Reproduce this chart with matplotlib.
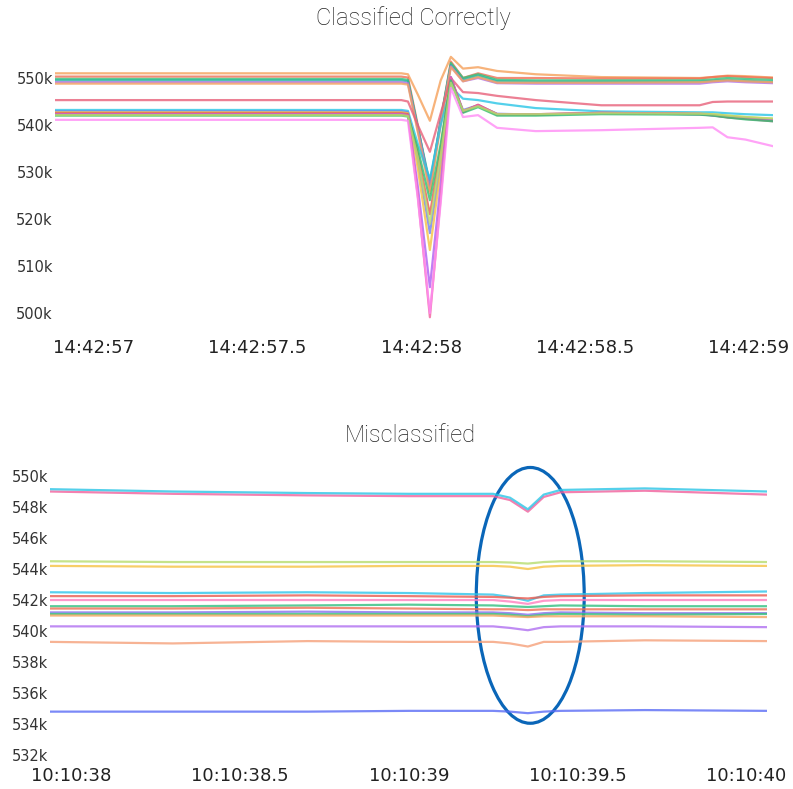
import matplotlib
matplotlib.use("Agg")
import matplotlib.pyplot as plt
import numpy as np
from matplotlib.patches import Ellipse

# ---- top chart: seconds after 14:42:57 ----
t_top = [-0.117, 0.94, 0.96, 0.99, 1.027, 1.06, 1.091, 1.128, 1.174, 1.232,
         1.35, 1.55, 1.85, 1.89, 1.935, 1.99, 2.074]

top_series = {
    "#f5a05a": [551.0, 551.0, 550.8, 546.5, 540.9, 549.5, 554.5, 552.0, 552.3, 551.5, 550.8, 550.2, 550.0, 550.2, 550.5, 550.4, 550.1],
    "#ef6f55": [550.3, 550.3, 550.1, 540.0, 526.0, 541.0, 553.5, 550.0, 551.0, 550.0, 550.0, 549.9, 549.9, 550.2, 550.4, 550.2, 550.0],
    "#35c27a": [549.8, 549.8, 549.6, 539.5, 527.0, 541.0, 553.2, 550.0, 550.8, 549.6, 549.5, 549.5, 549.5, 549.7, 550.0, 549.8, 549.6],
    "#2bb5a0": [549.5, 549.5, 549.3, 539.5, 527.6, 541.0, 552.8, 549.6, 550.5, 549.3, 549.2, 549.2, 549.2, 549.4, 549.6, 549.4, 549.2],
    "#b070e8": [549.1, 549.1, 548.9, 539.0, 526.8, 540.5, 552.5, 549.3, 550.0, 548.9, 548.8, 548.8, 548.8, 549.1, 549.3, 549.1, 548.9],
    "#f4a460": [548.8, 548.8, 548.6, 538.5, 525.5, 540.0, 552.3, 549.3, 550.2, 549.0, 549.0, 549.0, 549.1, 549.3, 549.5, 549.3, 549.1],
    "#e8607a": [545.3, 545.3, 545.0, 540.0, 534.3, 542.5, 550.0, 547.0, 546.8, 546.2, 545.3, 544.2, 544.2, 544.9, 545.0, 545.0, 545.0],
    "#29c5e6": [543.2, 543.2, 543.0, 536.0, 528.5, 540.0, 548.1, 545.6, 545.3, 544.6, 543.6, 542.9, 542.7, 542.7, 542.5, 542.3, 542.1],
    "#6f7ff0": [542.9, 542.9, 542.7, 532.5, 517.0, 532.0, 549.6, 543.2, 544.2, 542.4, 542.2, 542.5, 542.3, 542.1, 541.8, 541.5, 541.0],
    "#f5c242": [542.7, 542.7, 542.5, 530.8, 513.4, 530.5, 549.8, 543.0, 544.0, 542.2, 542.3, 542.5, 542.4, 542.3, 542.0, 541.7, 541.3],
    "#ea5a4f": [542.5, 542.5, 542.3, 534.0, 521.0, 535.0, 550.2, 542.9, 544.3, 542.3, 542.2, 542.6, 542.3, 542.1, 541.7, 541.4, 540.9],
    "#b05ef2": [542.3, 542.3, 542.1, 527.0, 505.5, 527.5, 550.2, 542.8, 544.2, 542.2, 542.3, 542.5, 542.3, 542.0, 541.7, 541.4, 541.0],
    "#f0609c": [542.2, 542.2, 542.0, 525.0, 499.1, 524.5, 550.0, 542.7, 544.3, 542.3, 542.3, 542.6, 542.4, 542.1, 541.6, 541.3, 540.8],
    "#2fbf71": [542.0, 542.0, 541.8, 535.0, 524.0, 536.0, 549.5, 542.6, 543.8, 542.0, 542.0, 542.3, 542.2, 542.0, 541.6, 541.2, 540.8],
    "#b7dd6e": [542.1, 542.1, 541.9, 533.0, 519.0, 533.5, 549.0, 543.0, 544.0, 542.3, 542.3, 542.5, 542.4, 542.3, 542.0, 541.7, 541.4],
    "#ff8cf5": [541.1, 541.1, 540.9, 524.5, 500.0, 523.5, 547.9, 541.7, 542.1, 539.4, 538.7, 538.9, 539.4, 539.5, 537.4, 536.9, 535.5],
}
top_ticks = [0, 0.5, 1, 1.5, 2]
top_tick_labels = ["14:42:57", "14:42:57.5", "14:42:58", "14:42:58.5", "14:42:59"]
top_yticks = [500, 510, 520, 530, 540, 550]

# ---- bottom chart: seconds after 10:10:38 ----
t_bot = [-0.064, 0.3, 0.7, 1.0, 1.25, 1.30, 1.353, 1.40, 1.45, 1.7, 2.062]

bot_series = {
    "#f0609c": [549.0, 548.85, 548.75, 548.7, 548.7, 548.45, 547.7, 548.65, 548.95, 549.05, 548.8],
    "#29c5e6": [549.15, 549.0, 548.9, 548.85, 548.85, 548.6, 547.85, 548.8, 549.1, 549.2, 549.0],
    "#b7dd6e": [544.5, 544.45, 544.45, 544.45, 544.45, 544.42, 544.35, 544.45, 544.5, 544.5, 544.45],
    "#f5c242": [544.2, 544.15, 544.15, 544.2, 544.2, 544.15, 544.0, 544.15, 544.2, 544.25, 544.2],
    "#2fc5ea": [542.5, 542.45, 542.5, 542.45, 542.35, 542.2, 541.95, 542.3, 542.35, 542.45, 542.55],
    "#ea5a4f": [542.25, 542.25, 542.3, 542.25, 542.2, 542.15, 542.1, 542.2, 542.25, 542.3, 542.3],
    "#ff7fbf": [542.0, 542.0, 542.0, 542.0, 542.0, 541.9, 541.75, 541.95, 542.0, 542.0, 542.0],
    "#2fbf80": [541.6, 541.6, 541.65, 541.7, 541.65, 541.6, 541.55, 541.6, 541.65, 541.6, 541.6],
    "#ef6f55": [541.45, 541.45, 541.5, 541.45, 541.4, 541.4, 541.35, 541.4, 541.4, 541.4, 541.4],
    "#8a6ff0": [541.2, 541.2, 541.25, 541.2, 541.2, 541.15, 541.05, 541.15, 541.2, 541.15, 541.15],
    "#35c27a": [541.1, 541.1, 541.1, 541.1, 541.1, 541.05, 540.95, 541.05, 541.1, 541.05, 541.1],
    "#f4a460": [541.0, 541.0, 541.0, 541.0, 541.0, 540.95, 540.9, 540.95, 540.95, 540.95, 540.9],
    "#b070f0": [540.3, 540.3, 540.3, 540.3, 540.3, 540.2, 540.05, 540.25, 540.3, 540.3, 540.25],
    "#f5a07a": [539.3, 539.2, 539.35, 539.3, 539.3, 539.2, 539.0, 539.3, 539.3, 539.4, 539.35],
    "#5a6cf5": [534.8, 534.8, 534.8, 534.85, 534.85, 534.8, 534.7, 534.8, 534.85, 534.9, 534.85],
}
bot_ticks = [0, 0.5, 1, 1.5, 2]
bot_tick_labels = ["10:10:38", "10:10:38.5", "10:10:39", "10:10:39.5", "10:10:40"]
bot_yticks = [532, 534, 536, 538, 540, 542, 544, 546, 548, 550]

W, H = 793, 789
fig = plt.figure(figsize=(W / 100, H / 100), dpi=100)


def box(left, top, right, bottom):
    return [left / W, 1 - bottom / H, (right - left) / W, (bottom - top) / H]


def style(ax, yticks, xticks, xlabels, xpad):
    for s in ax.spines.values():
        s.set_visible(False)
    ax.set_yticks(yticks)
    ax.set_yticklabels([f"{v}k" for v in yticks])
    ax.set_xticks(xticks)
    ax.set_xticklabels(xlabels)
    ax.tick_params(axis="y", length=0, pad=1.5, labelsize=10.5, labelcolor="#333333")
    ax.tick_params(axis="x", length=0, pad=xpad, labelsize=13, labelcolor="#222222")


ax1 = fig.add_axes(box(55, 50, 773, 325))
for c, v in top_series.items():
    ax1.plot(t_top, v, color=c, lw=1.6, alpha=0.8, solid_joinstyle="round")
ax1.set_xlim(-0.117, 2.074)
ax1.set_ylim(497.45, 555.96)
style(ax1, top_yticks, top_ticks, top_tick_labels, 10)

ax2 = fig.add_axes(box(50, 466, 767, 760))
for c, v in bot_series.items():
    ax2.plot(t_bot, v, color=c, lw=1.6, alpha=0.8, solid_joinstyle="round")
ax2.set_xlim(-0.064, 2.062)
ax2.set_ylim(531.68, 550.645)
style(ax2, bot_yticks, bot_ticks, bot_tick_labels, 5)

ax2.add_patch(Ellipse((1.36, 542.3), 0.32, 16.5, fill=False,
                      edgecolor="#0a66b8", lw=2.3, clip_on=False))

title_font = dict(ha="center", va="center", fontsize=17, family="Roboto",
                  fontweight="light", color="#222222")
fig.text(413 / W, 1 - 18 / H, "Classified Correctly", **title_font)
fig.text(410 / W, 1 - 436 / H, "Misclassified", **title_font)

fig.savefig("out.png", dpi=100)
